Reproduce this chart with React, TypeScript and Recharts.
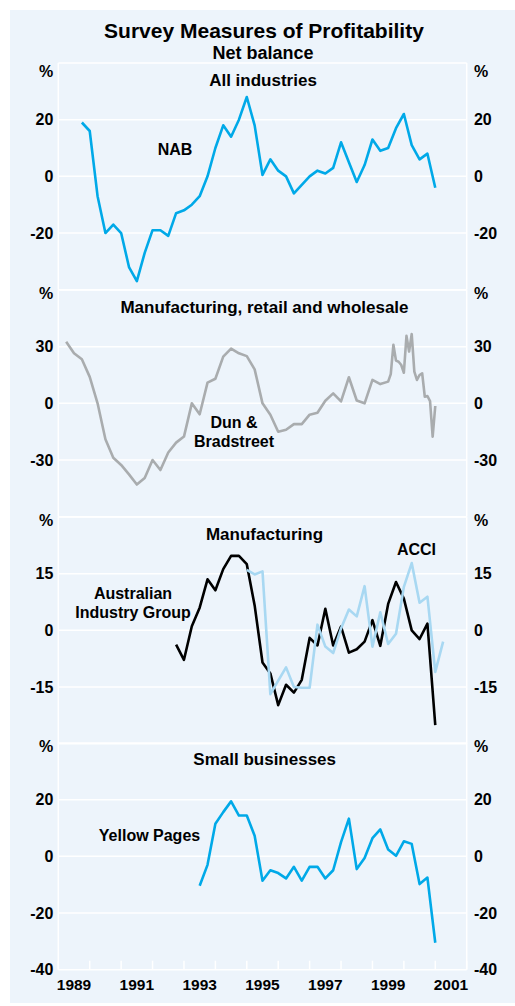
import { LineChart, Line, XAxis, YAxis, CartesianGrid } from "recharts";

// NAB, all industries, quarterly from Sep 1989
const nabStart = 1989.75;
const nabValues = [
  19, 16, -7, -20, -17, -20, -32, -37, -27, -19, -19, -21, -13, -12, -10, -7,
  0, 10, 18, 14, 20, 28, 18, 0.5, 6, 2, 0, -6, -3, 0, 2, 1, 3, 12, 5, -2, 4,
  13, 9, 10, 17, 22, 11, 6, 8, -4,
];

// Dun & Bradstreet: quarterly, then monthly from mid 1999
const dnbQuarterStart = 1989.25;
const dnbQuarterValues = [
  32.6, 26.5, 23.3, 14, 0, -19, -28.8, -32.6, -37.6, -43, -39.5, -30, -35.3,
  -26, -20.8, -17.6, 0, -5.8, 11, 13, 24.7, 29, 26.5, 25, 18, 0, -6, -15, -14,
  -11, -11, -6, -5, 1.4, 5.3, 1, 13.8, 1.5, 0, 12.4, 10.2,
];
const dnbMonthStart = 1999.5;
const dnbMonthValues = [
  11.5, 15.5, 31, 22.6, 22, 20.3, 16.2, 35.7, 27.4, 36.7, 16.8, 12.4, 15, 15.9,
  3.5, 3.9, 1.2, -17.6, -1.4,
];

// Australian Industry Group, manufacturing
const aigStart = 1992.75;
const aigValues = [
  -3.8, -7.8, 1.1, 6, 13.5, 10.6, 16.2, 19.7, 19.7, 17.5, 6.6, -8.5, -11.4,
  -19.8, -14.4, -16.5, -13.1, -2, -4, 5.7, -4, 1, -5.9, -5, -3, 2.7, -4.1, 7,
  12.8, 8.4, 0, -2.3, 1.8, -25.1,
];

// ACCI, manufacturing
const acciStart = 1995;
const acciValues = [
  16, 14.8, 15.6, -16.9, -13.3, -9.8, -15, -15.2, -15.2, 1.5, -4.3, -6, 0.5,
  5.5, 3.7, 11.7, -4.3, 4.8, -3.6, -0.9, 11.5, 17.8, 7.3, 8.9, -11, -3,
];

// Yellow Pages, small businesses
const ypStart = 1993.5;
const ypValues = [
  -10.4, -3, 11.5, 15.6, 19.4, 14.4, 14.4, 7.3, -8.6, -4.9, -5.9, -7.8, -3.7,
  -8.6, -3.7, -3.7, -7.8, -4.9, 5, 13.3, -4.5, -0.6, 6.4, 9.5, 2.4, 0.2, 5.3,
  4.4, -9.8, -7.5, -30.5,
];

const yearTicks = [1989, 1990, 1991, 1992, 1993, 1994, 1995, 1996, 1997, 1998, 1999, 2000, 2001, 2002];
const yearLabels = [1989, 1991, 1993, 1995, 1997, 1999, 2001];

const panel1Ticks = [-40, -20, 0, 20, 40];
const panel2Ticks = [-60, -30, 0, 30, 60];
const panel3Ticks = [-30, -15, 0, 15, 30];
const panel4Ticks = [-40, -20, 0, 20, 40];

const quarterly = (start: number, values: number[]) =>
  values.map((v, i) => ({ t: start + i / 4, v }));
const monthly = (start: number, values: number[]) =>
  values.map((v, i) => ({ t: start + i / 12, v }));

const FONT = '"Liberation Sans", Arial, Helvetica, sans-serif';
const BG = "#EDF4FB";
const BLUE = "#00A9E8";
const GREY = "#A9ACAE";
const LIGHT = "#A8D8F2";

const PANEL_H = 226.7;
const PAD = 10;

function YTick(props: any) {
  const { x, y, payload, side, ticks, pctDy, showMin } = props;
  const v = payload.value;
  const max = ticks[ticks.length - 1];
  const min = ticks[0];
  if (v === min && !showMin) return <g />;
  const isTop = v === max;
  return (
    <text
      x={x}
      y={y + (isTop ? pctDy : 0)}
      dy="0.36em"
      textAnchor={side === "left" ? "end" : "start"}
      fontSize={16}
      fontWeight="bold"
      fontFamily={FONT}
      fill="#000"
    >
      {isTop ? "%" : String(v)}
    </text>
  );
}

function XTick(props: any) {
  const { x, y, payload } = props;
  const v = payload.value;
  if (Number.isInteger(v)) {
    return <line x1={x} x2={x} y1={y} y2={y - 9} stroke="#fff" strokeWidth={1.5} />;
  }
  const year = Math.floor(v);
  if (!yearLabels.includes(year)) return <g />;
  return (
    <text x={x} y={y + 20} textAnchor="middle" fontSize={15.5} fontWeight="bold" fontFamily={FONT} fill="#000">
      {year}
    </text>
  );
}

type Series = { data: { t: number; v: number }[]; color: string };

function Panel({
  top,
  ticks,
  pctDy,
  showMin = false,
  showX = false,
  series,
}: {
  top: number;
  ticks: number[];
  pctDy: number;
  showMin?: boolean;
  showX?: boolean;
  series: Series[];
}) {
  const xh = showX ? 30 : 0;
  const bottom = showX ? 6 : PAD;
  const xTicks = [...yearTicks, ...yearLabels.map((y) => y + 0.5)];
  return (
    <div style={{ position: "absolute", left: 0, top: top - PAD }}>
      <LineChart
        width={515}
        height={PAD + PANEL_H + xh + bottom}
        margin={{ top: PAD, right: 8.3, bottom, left: 8.3 }}
      >
        <CartesianGrid yAxisId="left" vertical={false} stroke="#fff" strokeWidth={1.5} />
        <XAxis
          dataKey="t"
          type="number"
          domain={[1989, 2002]}
          allowDataOverflow
          hide={!showX}
          height={xh}
          ticks={xTicks}
          interval={0}
          axisLine={false}
          tickLine={false}
          tickSize={0}
          tickMargin={0}
          tick={<XTick />}
        />
        <YAxis
          yAxisId="left"
          orientation="left"
          type="number"
          width={50}
          domain={[ticks[0], ticks[ticks.length - 1]]}
          ticks={ticks}
          interval={0}
          allowDataOverflow
          axisLine={{ stroke: "#fff", strokeWidth: 1.5 }}
          tickLine={false}
          tickSize={0}
          tickMargin={5}
          tick={<YTick side="left" ticks={ticks} pctDy={pctDy} showMin={showMin} />}
        />
        <YAxis
          yAxisId="right"
          orientation="right"
          type="number"
          width={40}
          domain={[ticks[0], ticks[ticks.length - 1]]}
          ticks={ticks}
          interval={0}
          allowDataOverflow
          axisLine={{ stroke: "#fff", strokeWidth: 1.5 }}
          tickLine={false}
          tickSize={0}
          tickMargin={7.3}
          tick={<YTick side="right" ticks={ticks} pctDy={pctDy} showMin={showMin} />}
        />
        {series.map((s, i) => (
          <Line
            key={i}
            yAxisId="left"
            data={s.data}
            dataKey="v"
            type="linear"
            stroke={s.color}
            strokeWidth={2.6}
            strokeLinejoin="round"
            dot={false}
            activeDot={false}
            isAnimationActive={false}
          />
        ))}
      </LineChart>
    </div>
  );
}

const label = (x: number, y: number, text: string, size = 16) => (
  <text x={x} y={y} textAnchor="middle" fontSize={size} fontWeight="bold" fontFamily={FONT} fill="#000">
    {text}
  </text>
);

export default function App() {
  return (
    <div style={{ position: "absolute", left: 0, top: 0, width: 515, height: 1006, background: "#fff" }}>
      <div style={{ position: "absolute", left: 10, top: 10, width: 505, height: 993, background: BG }} />
      <Panel top={63.3} ticks={panel1Ticks} pctDy={8.5} series={[{ data: quarterly(nabStart, nabValues), color: BLUE }]} />
      <Panel
        top={290}
        ticks={panel2Ticks}
        pctDy={3}
        series={[
          {
            data: [...quarterly(dnbQuarterStart, dnbQuarterValues), ...monthly(dnbMonthStart, dnbMonthValues)],
            color: GREY,
          },
        ]}
      />
      <Panel
        top={516.7}
        ticks={panel3Ticks}
        pctDy={3}
        series={[
          { data: quarterly(aigStart, aigValues), color: "#000" },
          { data: quarterly(acciStart, acciValues), color: LIGHT },
        ]}
      />
      <Panel
        top={743.4}
        ticks={panel4Ticks}
        pctDy={3}
        showMin
        showX
        series={[{ data: quarterly(ypStart, ypValues), color: BLUE }]}
      />
      <svg width={515} height={1006} style={{ position: "absolute", left: 0, top: 0, pointerEvents: "none" }}>
        {label(264, 38, "Survey Measures of Profitability", 21)}
        {label(263, 58.5, "Net balance", 18)}
        {label(263, 86, "All industries", 17)}
        {label(175, 155, "NAB")}
        {label(264.5, 312.7, "Manufacturing, retail and wholesale", 17)}
        {label(234, 428.3, "Dun &")}
        {label(234, 447.3, "Bradstreet")}
        {label(264.5, 540, "Manufacturing", 17)}
        {label(416.5, 555, "ACCI")}
        {label(133, 599, "Australian")}
        {label(133, 618.3, "Industry Group")}
        {label(264.7, 765, "Small businesses", 17)}
        {label(149.5, 841, "Yellow Pages")}
      </svg>
    </div>
  );
}
